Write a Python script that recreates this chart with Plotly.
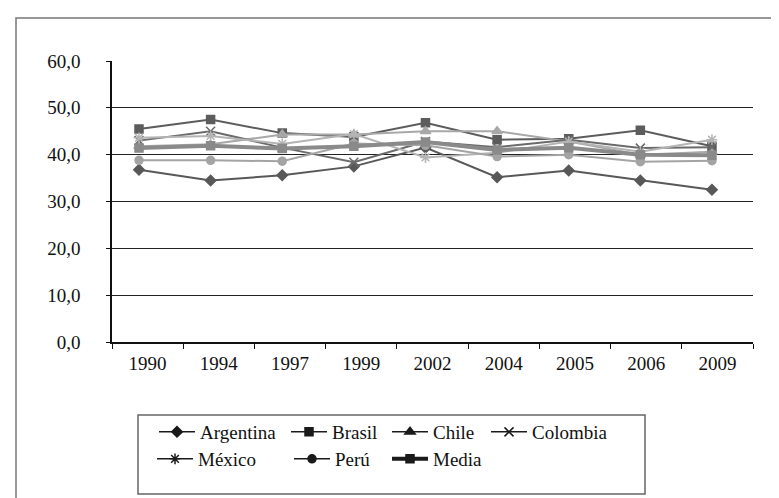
import plotly.graph_objects as go

years = ["1990", "1994", "1997", "1999", "2002", "2004", "2005", "2006", "2009"]
argentina = [36.8, 34.5, 35.6, 37.5, 41.5, 35.2, 36.6, 34.5, 32.5]
brasil = [45.5, 47.5, 44.6, 43.8, 46.8, 43.2, 43.4, 45.2, 41.8]
chile = [41.8, 42.2, 44.3, 44.3, 45.0, 45.0, 42.8, 40.0, 40.6]
colombia = [43.0, 45.0, 41.5, 38.4, 42.8, 41.6, 43.2, 41.4, 41.6]
mexico = [43.6, 44.0, 42.3, 44.4, 39.4, 40.4, 42.8, 40.6, 43.2]
peru = [38.8, 38.8, 38.6, 42.4, 42.0, 39.6, 40.0, 38.5, 38.7]
media = [41.4, 41.9, 41.3, 41.8, 42.7, 41.0, 41.5, 40.0, 39.9]
y_ticks = [0, 10, 20, 30, 40, 50, 60]

W, H = 779, 498
L, R, T, B = 104, 745, 53, 334

def px(x):
    return (x - L) / (R - L)

def py(y):
    return (B - y) / (B - T)

series = [
    ("Argentina", argentina, "#585858", "diamond", 8, 2),
    ("Brasil", brasil, "#5c5c5c", "square", 8, 2),
    ("Chile", chile, "#a8a8a8", "triangle-up", 9, 2),
    ("Colombia", colombia, "#6a6a6a", "x-thin-open", 9, 2),
    ("México", mexico, "#b4b4b4", "asterisk-open", 9, 2),
    ("Perú", peru, "#a4a4a4", "circle", 8, 2),
    ("Media", media, "#8a8a8a", "square", 8, 4),
]

# legend positions (pixel): legend-box left x, row center y
leg_pos = [(146, 424), (278, 424), (379, 424), (478, 424),
           (144, 451), (281, 451), (379, 451)]

FAMILY = "Times New Roman, Liberation Serif, DejaVu Serif, serif"
font = dict(family=FAMILY, size=19, color="#111")

fig = go.Figure()

for name, vals, col, sym, ms, lw in series:
    fig.add_trace(go.Scatter(
        x=years, y=vals, mode="lines+markers", name=name,
        xaxis="x2", yaxis="y",
        line=dict(color=col, width=lw),
        marker=dict(symbol=sym, size=ms, color=col,
                    line=dict(color=col, width=1.5)),
        showlegend=False,
    ))

for i, (name, vals, col, sym, ms, lw) in enumerate(series):
    lname = "legend" if i == 0 else f"legend{i+1}"
    fig.add_trace(go.Scatter(
        x=years, y=[None] * len(years), mode="lines+markers", name=name,
        xaxis="x", yaxis="y",
        line=dict(color="#1a1a1a", width=lw if lw > 2 else 1.5),
        marker=dict(symbol=sym, size=ms, color="#1a1a1a",
                    line=dict(color="#1a1a1a", width=1.5)),
        legend=lname, showlegend=True,
    ))

layout = dict(
    width=W, height=H,
    margin=dict(l=L, r=W - R, t=T, b=H - B),
    paper_bgcolor="white", plot_bgcolor="white",
    separators=",.",
    font=font,
    xaxis=dict(type="category", categoryorder="array", categoryarray=years,
               range=[-0.5, 8.5], showgrid=False, showline=True,
               linecolor="#111", linewidth=1.5, ticks="outside",
               tickson="boundaries", ticklen=5, tickcolor="#111",
               ticklabelstandoff=3, tickfont=font, zeroline=False),
    xaxis2=dict(type="category", categoryorder="array", categoryarray=years,
                overlaying="x", range=[-0.377, 8.573], visible=False),
    yaxis=dict(range=[0, 60], tickvals=y_ticks, tickformat=".1f",
               showgrid=True, gridcolor="#222", gridwidth=1.2,
               showline=True, linecolor="#111", linewidth=1.5,
               ticks="outside", ticklen=4, tickcolor="#111",
               ticklabelstandoff=22, tickfont=font, zeroline=False),
    shapes=[
        dict(type="rect", xref="paper", yref="paper",
             x0=px(8), x1=px(800), y0=py(520), y1=py(10),
             line=dict(color="#777", width=1.5), layer="below"),
        dict(type="rect", xref="paper", yref="paper",
             x0=px(130), x1=px(637), y0=py(486), y1=py(407),
             line=dict(color="#666", width=1.5), layer="below"),
    ],
)

for i, (x, y) in enumerate(leg_pos):
    lname = "legend" if i == 0 else f"legend{i+1}"
    layout[lname] = dict(
        x=px(x), y=py(y), xanchor="left", yanchor="middle",
        orientation="h", bgcolor="rgba(0,0,0,0)", borderwidth=0,
        font=font, itemwidth=36, tracegroupgap=0,
    )

fig.update_layout(**layout)
fig.write_html("out.html")
